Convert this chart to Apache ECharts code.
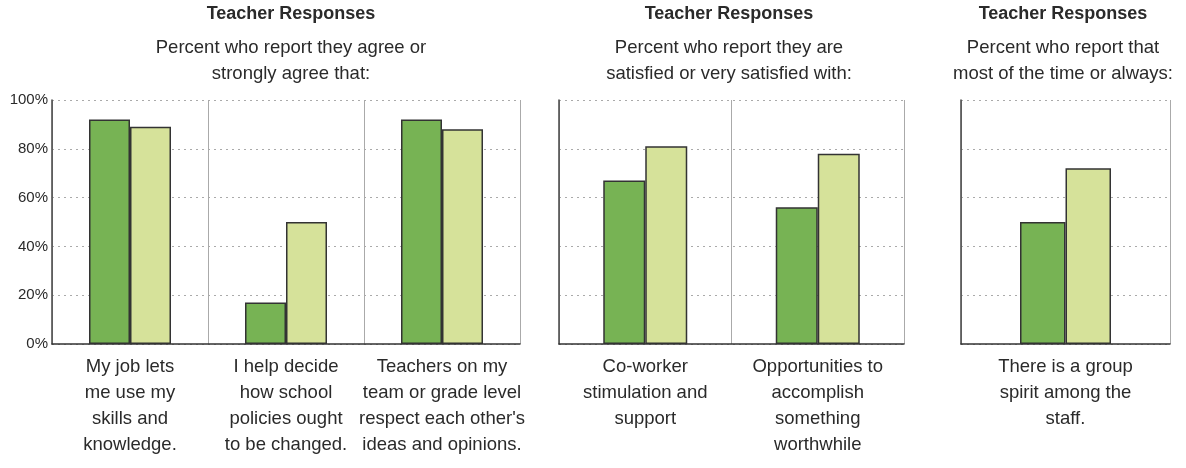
<!DOCTYPE html>
<html>
<head>
<meta charset="utf-8">
<script src="https://cdn.jsdelivr.net/npm/echarts@6/dist/echarts.min.js"></script>
<style>
html,body{margin:0;padding:0;background:#fff;}
#chart{width:1186px;height:468px;}
</style>
</head>
<body>
<div id="chart"></div>
<script>
// ---- data ----
const panelTitles = ["Teacher Responses", "Teacher Responses", "Teacher Responses"];
const panelSubtitles = [
  "Percent who report they agree or\nstrongly agree that:",
  "Percent who report they are\nsatisfied or very satisfied with:",
  "Percent who report that\nmost of the time or always:"
];
const categories1 = [
  "My job lets\nme use my\nskills and\nknowledge.",
  "I help decide\nhow school\npolicies ought\nto be changed.",
  "Teachers on my\nteam or grade level\nrespect each other's\nideas and opinions."
];
const categories2 = [
  "Co-worker\nstimulation and\nsupport",
  "Opportunities to\naccomplish\nsomething\nworthwhile"
];
const categories3 = ["There is a group\nspirit among the\nstaff."];
const seriesA1 = [92, 17, 92];
const seriesB1 = [89, 50, 88];
const seriesA2 = [67, 56];
const seriesB2 = [81, 78];
const seriesA3 = [50];
const seriesB3 = [72];
const yTicks = [0, 20, 40, 60, 80, 100];

// ---- chart ----
const FONT = '"Liberation Sans", Arial, sans-serif';
const TXT = '#2a2a2a';
const grids = [
  {left: 52, right: 1186 - 520, top: 100, bottom: 468 - 344},
  {left: 559, right: 1186 - 904, top: 100, bottom: 468 - 344},
  {left: 961, right: 1186 - 1170, top: 100, bottom: 468 - 344}
];
const cats = [categories1, categories2, categories3];
const As = [seriesA1, seriesA2, seriesA3];
const Bs = [seriesB1, seriesB2, seriesB3];
const barWidths = [41, 42, 45.5];
const centers = [291, 729, 1063];

const xAxes = cats.map((c, i) => ({
  type: 'category', gridIndex: i, data: c,
  axisLine: {show: true, lineStyle: {color: '#333', width: 1.5}},
  axisTick: {show: false},
  splitLine: {show: true, interval: 0, lineStyle: {color: '#aaa', width: 1}},
  axisLabel: {interval: 0, color: TXT, fontFamily: FONT, fontSize: 18.5, lineHeight: 26, margin: 10}
}));
const yAxes = cats.map((c, i) => ({
  type: 'value', gridIndex: i, min: yTicks[0], max: yTicks[yTicks.length - 1], interval: yTicks[1] - yTicks[0],
  axisLine: {show: true, lineStyle: {color: '#444', width: 1.5}},
  axisTick: {show: false},
  splitLine: {show: true, lineStyle: {color: '#aaa', type: [2, 4], width: 1}},
  axisLabel: {show: i === 0, formatter: '{value}%', color: TXT, fontFamily: FONT, fontSize: 15, margin: 4}
}));
const series = [];
for (let i = 0; i < 3; i++) {
  series.push({
    type: 'bar', xAxisIndex: i, yAxisIndex: i, data: As[i], barWidth: barWidths[i], barGap: '0%',
    itemStyle: {color: '#77b354', borderColor: '#333', borderWidth: 1.5}
  });
  series.push({
    type: 'bar', xAxisIndex: i, yAxisIndex: i, data: Bs[i], barWidth: barWidths[i], barGap: '0%',
    itemStyle: {color: '#d6e29a', borderColor: '#333', borderWidth: 1.5}
  });
}
const graphics = [];
for (let i = 0; i < 3; i++) {
  graphics.push({
    type: 'text', x: centers[i], y: 14,
    style: {text: panelTitles[i], fill: TXT, font: 'bold 18px ' + FONT, textAlign: 'center', textVerticalAlign: 'middle'}
  });
  graphics.push({
    type: 'text', x: centers[i], y: 35,
    style: {text: panelSubtitles[i], fill: TXT, font: '18.5px ' + FONT, lineHeight: 26, textAlign: 'center', textVerticalAlign: 'top'}
  });
}
const chart = echarts.init(document.getElementById('chart'), null, {renderer: 'canvas'});
chart.setOption({
  animation: false,
  backgroundColor: '#fff',
  grid: grids,
  xAxis: xAxes,
  yAxis: yAxes,
  series: series,
  graphic: graphics
});
</script>
</body>
</html>
